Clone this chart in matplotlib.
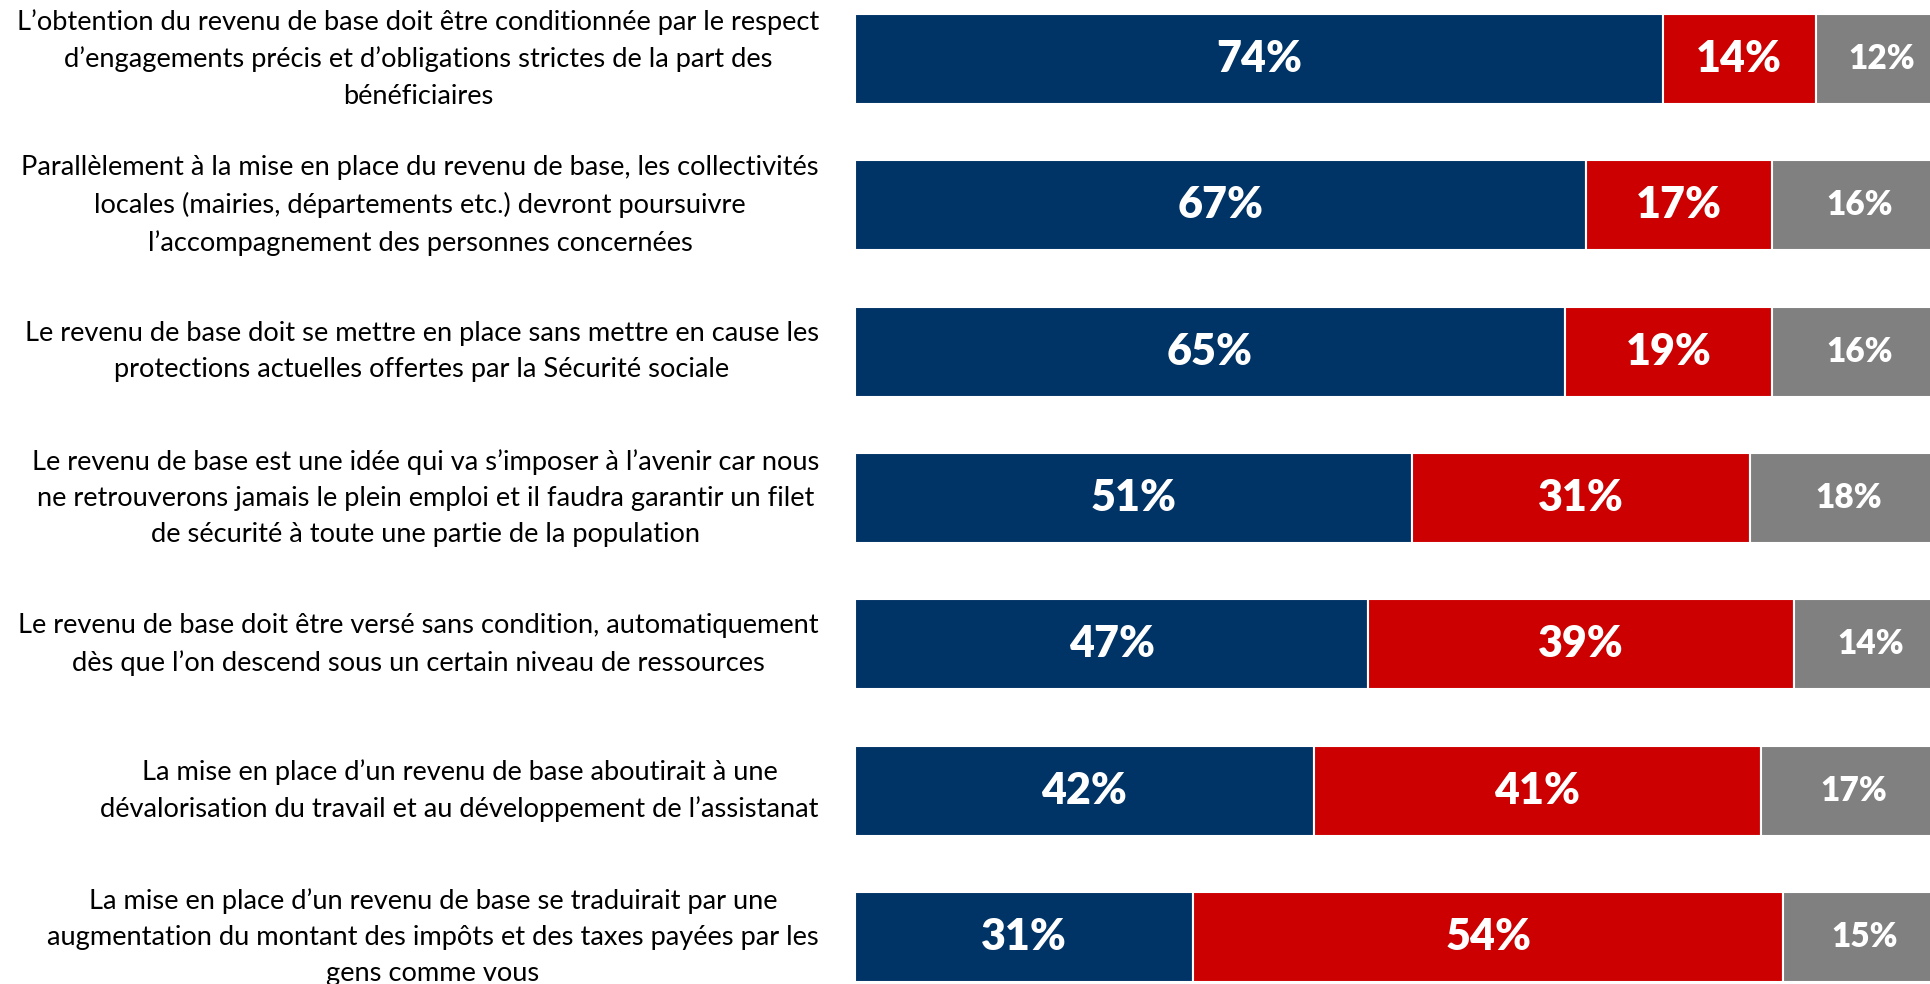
import matplotlib
matplotlib.use("Agg")
import matplotlib.pyplot as plt

categories = [
    "L’obtention du revenu de base doit être conditionnée par le respect\nd’engagements précis et d’obligations strictes de la part des\nbénéficiaires",
    "Parallèlement à la mise en place du revenu de base, les collectivités\nlocales (mairies, départements etc.) devront poursuivre\nl’accompagnement des personnes concernées",
    "Le revenu de base doit se mettre en place sans mettre en cause les\nprotections actuelles offertes par la Sécurité sociale",
    "Le revenu de base est une idée qui va s’imposer à l’avenir car nous\nne retrouverons jamais le plein emploi et il faudra garantir un filet\nde sécurité à toute une partie de la population",
    "Le revenu de base doit être versé sans condition, automatiquement\ndès que l’on descend sous un certain niveau de ressources",
    "La mise en place d’un revenu de base aboutirait à une\ndévalorisation du travail et au développement de l’assistanat",
    "La mise en place d’un revenu de base se traduirait par une\naugmentation du montant des impôts et des taxes payées par les\ngens comme vous",
]
agree = [74, 67, 65, 51, 47, 42, 31]
disagree = [14, 17, 19, 31, 39, 41, 54]
no_answer = [12, 16, 16, 18, 14, 17, 15]

colors = ["#003366", "#CC0000", "#808080"]
font = ["Lato", "DejaVu Sans"]

fig = plt.figure(figsize=(19.31, 9.84), dpi=100)
ax = fig.add_axes([855 / 1931, 0, 1 - 855 / 1931, 1])

xmax = 98.56
y = list(range(len(categories)))
left = [0] * len(categories)
series = [agree, disagree, no_answer]
sizes = [31, 31, 24]
for vals, col, fs in zip(series, colors, sizes):
    bars = ax.barh(y, vals, left=left, height=0.615, color=col,
                   edgecolor="white", linewidth=1.5)
    for b, v in zip(bars, vals):
        ax.text(b.get_x() + b.get_width() / 2, b.get_y() + b.get_height() / 2,
                f"{v}%", ha="center", va="center", color="white",
                fontsize=fs, fontweight="heavy", family=font)
    left = [l + v for l, v in zip(left, vals)]

ax.set_xlim(0, xmax)
ax.set_ylim(6.321, -0.403)
ax.axis("off")

for i, cat in enumerate(categories):
    ax.text(-36 / 1076 * xmax, i, cat, ha="right", va="center",
            multialignment="center", fontsize=19.6, family=font,
            color="black", linespacing=1.56)

fig.savefig("out.png", dpi=100)
